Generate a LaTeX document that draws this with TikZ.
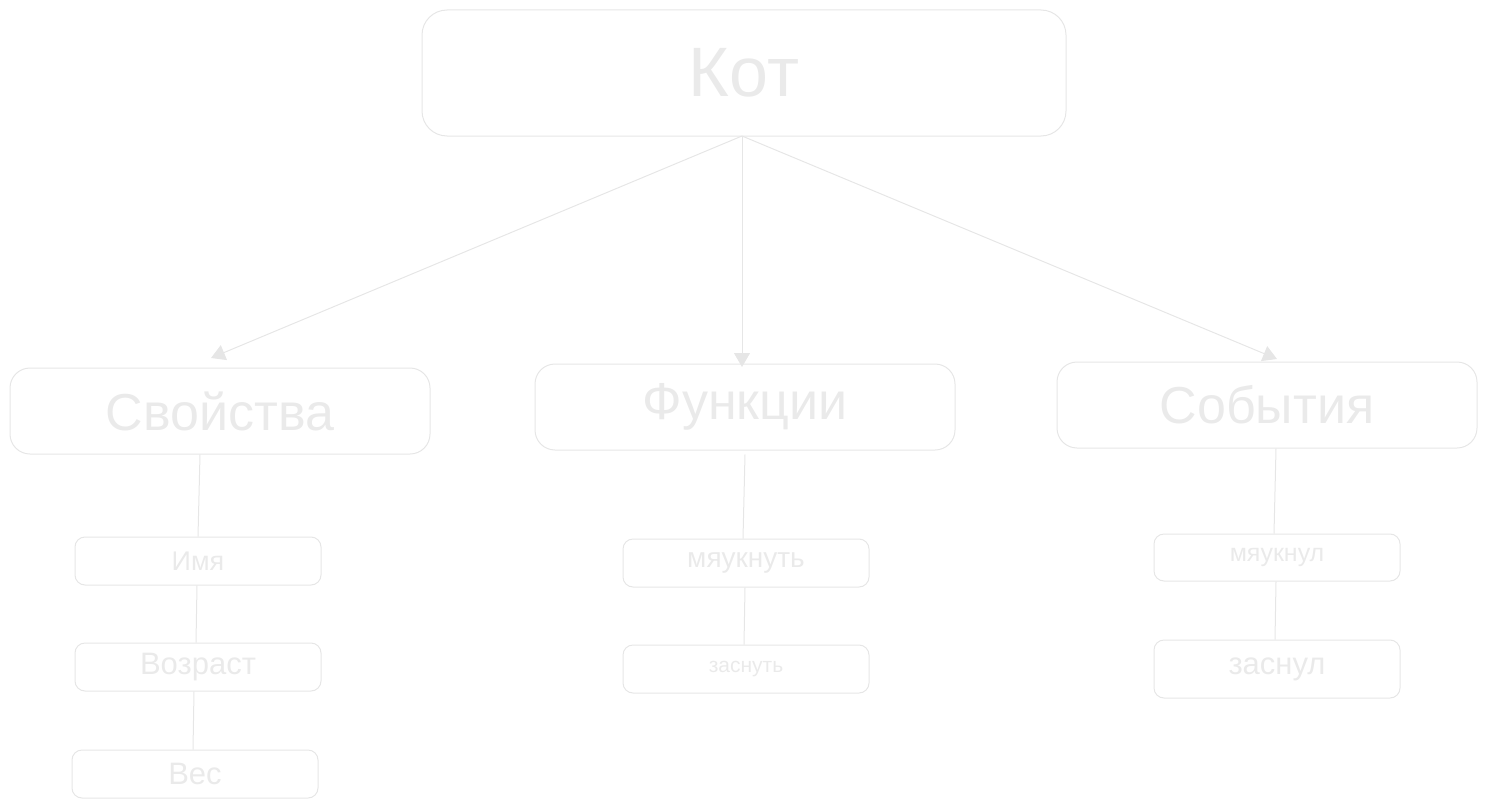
\documentclass[tikz,border=0pt]{standalone}
\usepackage{fontspec}
\setmainfont{Liberation Sans}
\usetikzlibrary{arrows.meta}
\definecolor{lc}{RGB}{230,230,230}
\definecolor{tc}{RGB}{234,234,234}
\tikzset{
  box/.style={draw=lc, line width=1pt, text=tc, inner sep=0pt, align=center},
  topbox/.style={box, rounded corners=25pt, minimum width=644pt, minimum height=126pt, font=\fontsize{70}{80}\selectfont},
  midbox/.style={box, rounded corners=20pt, minimum width=420pt, minimum height=86pt, font=\fontsize{52}{60}\selectfont},
  leafbox/.style={box, rounded corners=10pt, minimum width=246pt, minimum height=48pt},
  arr/.style={draw=lc, line width=1pt, -{Triangle[length=14pt,width=16pt]}},
  conn/.style={draw=lc, line width=1pt}
}
\begin{document}
\begin{tikzpicture}[x=1pt,y=-1pt]
\useasboundingbox (0,0) rectangle (1488,808);
\node[topbox] (kot) at (744,73) {Кот};
\node[midbox] (prop) at (220,411) {Свойства};
\node[midbox] (func) at (745,407) {Функции};
\node[midbox] (evt) at (1267,405) {События};
\node[leafbox, font=\fontsize{27}{32}\selectfont] (imya) at (198,561) {Имя};
\node[leafbox, font=\fontsize{31}{36}\selectfont] (vozr) at (198,667) {Возраст};
\node[leafbox, font=\fontsize{31}{36}\selectfont] (ves) at (195,774) {Вес};
\node[leafbox, font=\fontsize{28}{32}\selectfont] (myauk) at (746,563) {мяукнуть};
\node[leafbox, font=\fontsize{21}{26}\selectfont] (zasn) at (746,669) {заснуть};
\node[leafbox, minimum height=47pt, font=\fontsize{25}{30}\selectfont] (myaukl) at (1277,557.5) {мяукнул};
\node[leafbox, minimum height=58pt, font=\fontsize{31}{36}\selectfont] (zasnul) at (1277,669) {заснул};
\coordinate (aprop) at (211,358);
\coordinate (afunc) at (742,367);
\coordinate (aevt) at (1277,359);
\coordinate (ksrc) at (742,136);
\draw[arr] (ksrc) -- (aprop);
\draw[arr] (ksrc) -- (afunc);
\draw[arr] (ksrc) -- (aevt);
\draw[conn] ([xshift=-20pt]prop.south) -- (imya.north);
\draw[conn] ([xshift=-1pt]imya.south) -- ([xshift=-2pt]vozr.north);
\draw[conn] ([xshift=-4pt]vozr.south) -- ([xshift=-2pt]ves.north);
\draw[conn] ([yshift=-4pt]func.south) -- ([xshift=-3pt]myauk.north);
\draw[conn] ([xshift=-1pt]myauk.south) -- ([xshift=-2pt]zasn.north);
\draw[conn] ([xshift=9pt]evt.south) -- ([xshift=-3pt]myaukl.north);
\draw[conn] ([xshift=-1pt]myaukl.south) -- ([xshift=-2pt]zasnul.north);
\end{tikzpicture}
\end{document}
